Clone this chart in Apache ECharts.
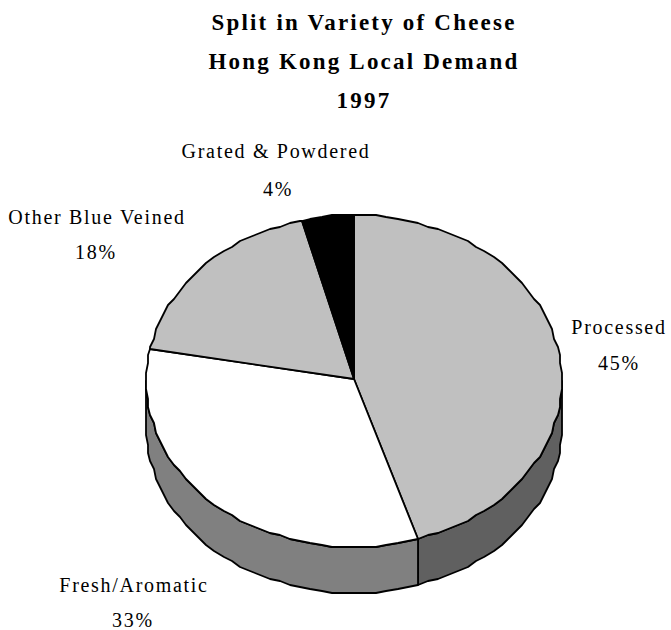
<!DOCTYPE html>
<html>
<head>
<meta charset="utf-8">
<script src="https://cdn.jsdelivr.net/npm/echarts@6/dist/echarts.min.js"></script>
<style>
html,body{margin:0;padding:0;background:#fff}
#c{width:671px;height:630px}
#c text{letter-spacing:1.7px}
#c text[style*="bold"]{letter-spacing:2.2px}
</style>
</head>
<body>
<div id="c"></div>
<script>
var titleLines = ['Split in Variety of Cheese', 'Hong Kong Local Demand', '1997'];
var categories = ['Processed', 'Fresh/Aromatic', 'Other Blue Veined', 'Grated & Powdered'];
var shares = [45, 33, 18, 4];
var topColors = ['#c0c0c0', '#ffffff', '#c0c0c0', '#000000'];
var sideColors = ['#606060', '#808080', '#808080', '#000000'];
var labelX = [619, 134, 97, 276];
var labelY = [327, 585, 217, 151];
var percentX = [619, 133, 96, 278];
var percentY = [363, 620, 252, 189];

var CX = 354, CY = 381, RX = 208, RY = 166, APEX_Y = 379, DEPTH = 46, GRID = 2, STEP = 3;
var FONT = '"Liberation Serif", "Times New Roman", serif';
var total = shares.reduce(function (a, b) { return a + b; }, 0);

function snap(v, off) { return Math.round((v - off) / GRID) * GRID + off; }
function rim(deg, dy) {
  var t = deg * Math.PI / 180;
  return [snap(CX + RX * Math.sin(t), 0), snap(CY - RY * Math.cos(t), 1) + (dy || 0)];
}
function arc(a, b, dy) {
  var pts = [rim(a, dy)];
  var d = Math.ceil(a / STEP + 1e-6) * STEP;
  for (; d < b; d += STEP) pts.push(rim(d, dy));
  pts.push(rim(b, dy));
  return pts;
}
function renderSlice(params, api) {
  var i = params.dataIndex, start = 0;
  for (var k = 0; k < i; k++) start += shares[k];
  var a0 = start / total * 360, a1 = (start + api.value(0)) / total * 360;
  var stroke = { stroke: '#000', lineWidth: 1.8, lineJoin: 'round' };
  var children = [];
  var s0 = Math.max(a0, 90), s1 = Math.min(a1, 270);
  if (s1 > s0) {
    var front = arc(s0, s1, 0), back = arc(s0, s1, DEPTH).reverse();
    children.push({
      type: 'polygon', z2: 1,
      shape: { points: front.concat(back) },
      style: Object.assign({ fill: sideColors[i] }, stroke)
    });
  }
  children.push({
    type: 'polygon', z2: 2,
    shape: { points: [[CX, APEX_Y]].concat(arc(a0, a1, 0)) },
    style: Object.assign({ fill: topColors[i] }, stroke)
  });
  children.push({
    type: 'text', z2: 3,
    style: { x: labelX[i], y: labelY[i], text: categories[i], fill: '#000',
      font: '20px ' + FONT, align: 'center', verticalAlign: 'middle' }
  });
  children.push({
    type: 'text', z2: 3,
    style: { x: percentX[i], y: percentY[i], text: shares[i] + '%', fill: '#000',
      font: '20px ' + FONT, align: 'center', verticalAlign: 'middle' }
  });
  return { type: 'group', children: children };
}

var chart = echarts.init(document.getElementById('c'), null, { renderer: 'svg' });
chart.setOption({
  animation: false,
  backgroundColor: '#fff',
  title: {
    text: titleLines.join('\n'), left: 359, top: -2, textAlign: 'center',
    textStyle: { fontFamily: FONT, fontSize: 23, fontWeight: 'bold', color: '#000', lineHeight: 39 }
  },
  series: [{
    type: 'custom', coordinateSystem: 'none', silent: true,
    renderItem: renderSlice,
    data: shares.map(function (v) { return [v]; })
  }]
});
</script>
</body>
</html>
